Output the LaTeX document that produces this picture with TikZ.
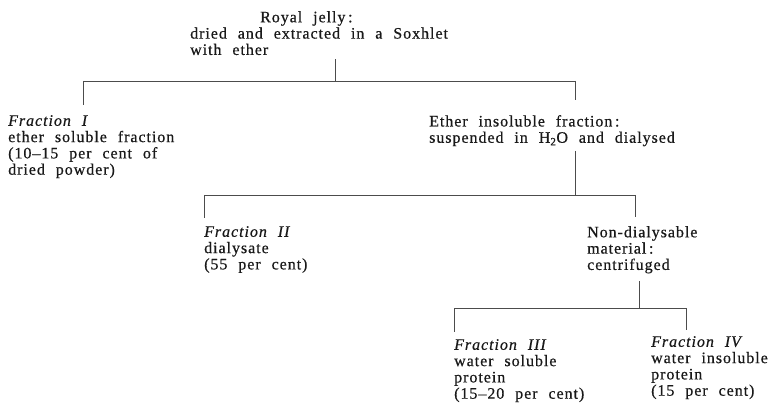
\documentclass[tikz,border=0pt]{standalone}
\usepackage{fontspec}
\setmainfont{Liberation Serif}[LetterSpace=6,WordSpace=2.2,FakeBold=0.6]
\newcommand\bodyfont{\fontsize{16}{16.3}\selectfont}
\begin{document}
\begin{tikzpicture}[x=1pt,y=-1pt,
  lbl/.style={anchor=north west, inner sep=0pt, align=left, font=\bodyfont, text=black!90},
  link/.style={draw=black!70, line width=0.7pt}]
\useasboundingbox (0,0) rectangle (775,403);
% text blocks
\node[lbl] (root) at (190,11) {\hspace*{70pt}Royal jelly\,:\\dried and extracted in a Soxhlet\\with ether};
\node[lbl] (f1) at (8,115) {\textit{Fraction I}\\ether soluble fraction\\(10–15 per cent of\\dried powder)};
\node[lbl] (ether) at (429,115) {Ether insoluble fraction\,:\\suspended in H\textsubscript{2}O and dialysed};
\node[lbl] (f2) at (204,226) {\textit{Fraction II}\\dialysate\\(55 per cent)};
\node[lbl] (nd) at (587,226) {Non-dialysable\\material\,:\\centrifuged};
\node[lbl] (f3) at (454,339) {\textit{Fraction III}\\water soluble\\protein\\(15–20 per cent)};
\node[lbl] (f4) at (651,336) {\textit{Fraction IV}\\water insoluble\\protein\\(15 per cent)};
% junctions
\coordinate (j1) at (335,81);
\coordinate (j1l) at (83,81);
\coordinate (j1r) at (575,81);
\coordinate (j2) at (575,195);
\coordinate (j2l) at (204,195);
\coordinate (j2r) at (635,195);
\coordinate (j3) at (639,308);
\coordinate (j3l) at (454,308);
\coordinate (j3r) at (686,308);
% connectors
\draw[link] ([yshift=-4pt]root.south -| j1) -- (j1);
\draw[link] (j1l) -- (j1r);
\draw[link] (j1l) -- ([yshift=10pt]f1.north -| j1l);
\draw[link] (j1r) -- ([yshift=15pt]ether.north -| j1r);
\draw[link] ([yshift=-4.5pt]ether.south -| j2) -- (j2);
\draw[link] (j2l) -- (j2r);
\draw[link] (j2l) -- ([yshift=8pt]f2.north -| j2l);
\draw[link] (j2r) -- ([yshift=9pt]nd.north -| j2r);
\draw[link] ([yshift=-7.5pt]nd.south -| j3) -- (j3);
\draw[link] (j3l) -- (j3r);
\draw[link] (j3l) -- ([yshift=7pt]f3.north -| j3l);
\draw[link] (j3r) -- ([yshift=6pt]f4.north -| j3r);
\end{tikzpicture}
\end{document}
